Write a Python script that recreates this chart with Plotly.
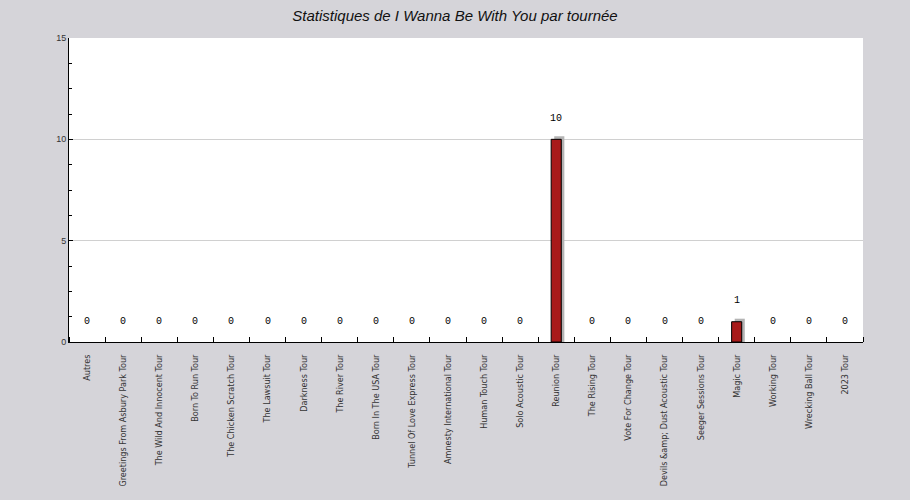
import plotly.graph_objects as go

categories = [
    "Autres", "Greetings From Asbury Park Tour", "The Wild And Innocent Tour",
    "Born To Run Tour", "The Chicken Scratch Tour", "The Lawsuit Tour",
    "Darkness Tour", "The River Tour", "Born In The USA Tour",
    "Tunnel Of Love Express Tour", "Amnesty International Tour",
    "Human Touch Tour", "Solo Acoustic Tour", "Reunion Tour",
    "The Rising Tour", "Vote For Change Tour", "Devils &amp;amp; Dust Acoustic Tour",
    "Seeger Sessions Tour", "Magic Tour", "Working Tour", "Wrecking Ball Tour",
    "2023 Tour",
]
values = [0, 0, 0, 0, 0, 0, 0, 0, 0, 0, 0, 0, 0, 10, 0, 0, 0, 0, 1, 0, 0, 0]

title = "Statistiques de I Wanna Be With You par tournée"

BG = "#d5d4d9"
BAR_W = 0.28
SHADOW_DX = 0.085   # in category units (~3px)
SHADOW_DY = 0.15    # in value units (~3px)

xpos = list(range(len(categories)))
shadow_y = [v + SHADOW_DY if v > 0 else None for v in values]
bar_line_w = [1 if v > 0 else 0 for v in values]

FIG_W, FIG_H = 894, 484

fig = go.Figure()
fig.add_trace(go.Bar(
    x=[p + SHADOW_DX for p in xpos], y=shadow_y, width=BAR_W,
    marker=dict(color="#b4b4b4", line=dict(width=0)),
    hoverinfo="skip", showlegend=False,
))
fig.add_trace(go.Bar(
    x=xpos, y=values, width=BAR_W,
    marker=dict(color="#a81a1a", line=dict(color="#000000", width=bar_line_w)),
    showlegend=False,
))

for p, v in zip(xpos, values):
    fig.add_annotation(
        x=p, y=v, text=str(v), showarrow=False, yshift=21,
        font=dict(family="Liberation Mono", size=10, color="#000000"),
    )

fig.update_layout(
    width=FIG_W, height=FIG_H, autosize=False,
    paper_bgcolor=BG, plot_bgcolor="#ffffff",
    margin=dict(l=61, r=39, t=30, b=150, pad=0, autoexpand=False),
    barmode="overlay",
    title=dict(
        text=title, x=0.5, xanchor="center", y=1 - 8 / FIG_H, yanchor="middle",
        font=dict(family="Liberation Sans", size=15, color="#111111", style="italic"),
    ),
    xaxis=dict(
        tickmode="array", tickvals=xpos, ticktext=categories,
        ticks="", showline=True, linecolor="#000000", linewidth=1,
        showgrid=False, zeroline=False, tickangle=-90, automargin=False,
        tickfont=dict(family="DejaVu Sans Condensed", size=9, color="#333333"),
        ticklabelstandoff=8,
        range=[-0.5, len(categories) - 0.5],
        minor=dict(ticks="inside", ticklen=5, tick0=-0.5, dtick=1,
                   tickcolor="#000000", showgrid=False),
    ),
    yaxis=dict(
        range=[0, 15], dtick=5, tick0=0, ticks="inside", ticklen=4,
        tickcolor="#000000", automargin=False,
        showline=True, linecolor="#000000", linewidth=1,
        showgrid=True, gridcolor="#d0d0d0", gridwidth=1,
        zeroline=False,
        tickfont=dict(family="Liberation Sans", size=9, color="#333333"),
        minor=dict(ticks="inside", ticklen=3, dtick=1.25, tickcolor="#000000", showgrid=False),
    ),
)

fig.write_html(
    "out.html",
    post_script=f"document.body.style.backgroundColor='{BG}';"
                f"document.documentElement.style.backgroundColor='{BG}';",
)
